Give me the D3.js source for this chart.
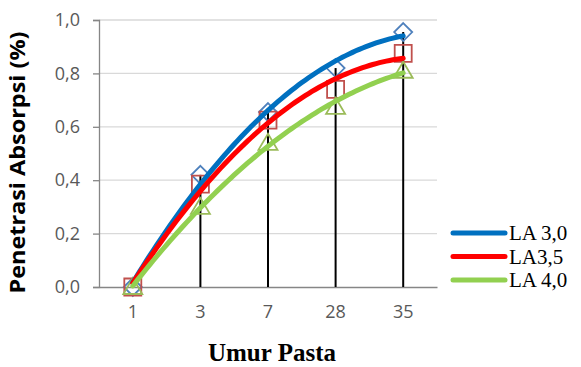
<!DOCTYPE html>
<html><head><meta charset="utf-8">
<script src="https://cdn.jsdelivr.net/npm/d3@7"></script>
<style>body{margin:0;background:#fff}svg{display:block}</style>
</head><body><svg id="c" width="581" height="367"></svg>
<script>
const categories = ["1","3","7","28","35"];
const seriesNames = ["LA 3,0","LA3,5","LA 4,0"];
const la30 = [0.00, 0.42, 0.655, 0.82, 0.955];
const la35 = [0.00, 0.385, 0.625, 0.74, 0.875];
const la40 = [0.00, 0.30, 0.54, 0.675, 0.81];
const yTicks = [0,0.2,0.4,0.6,0.8,1.0];

const series = [
  {name:seriesNames[0], values:la30, line:"#0070C0", marker:"#4F81BD", shape:"diamond"},
  {name:seriesNames[1], values:la35, line:"#FF0000", marker:"#C0504D", shape:"square"},
  {name:seriesNames[2], values:la40, line:"#92D050", marker:"#9BBB59", shape:"triangle"}
];

const svg = d3.select("#c");
const L=99, R=437, T=20, B=287;
const x = d3.scaleBand().domain(categories).range([L,R]);
const xc = c => x(c)+x.bandwidth()/2;
const y = d3.scaleLinear().domain([0,1]).range([B,T]);
const fmt = d => d.toFixed(1).replace(".",",");

svg.append("g").selectAll("line").data(yTicks.filter(d=>d>0)).join("line")
  .attr("x1",L).attr("x2",R).attr("y1",d=>y(d)).attr("y2",d=>y(d))
  .attr("stroke","#D9D9D9").attr("stroke-width",1.3);

const ya = svg.append("g").attr("transform",`translate(${L},0)`)
  .call(d3.axisLeft(y).tickValues(yTicks).tickFormat(fmt).tickSize(6).tickPadding(13));
ya.select(".domain").attr("stroke","#868686").attr("stroke-width",1.3);
ya.selectAll(".tick line").attr("stroke","#868686").attr("stroke-width",1.3);
ya.selectAll(".tick text").attr("fill","#595959").attr("font-family","'Open Sans',sans-serif").attr("font-size",18);

const xa = svg.append("g").attr("transform",`translate(0,${B})`)
  .call(d3.axisBottom(x).tickSize(0).tickPadding(18));
xa.select(".domain").attr("stroke","#868686").attr("stroke-width",1.5);
xa.selectAll(".tick text").attr("fill","#595959").attr("font-family","'Open Sans',sans-serif").attr("font-size",18);

const maxVals = categories.map((c,i)=>d3.max(series,s=>s.values[i]));
svg.append("g").selectAll("line").data(categories).join("line")
  .attr("x1",c=>xc(c)).attr("x2",c=>xc(c))
  .attr("y1",(c,i)=>y(maxVals[i])).attr("y2",B)
  .attr("stroke","#000").attr("stroke-width",2);

function markerPath(shape){
  if(shape==="diamond") return "M0,-9L9,0L0,9L-9,0Z";
  if(shape==="square") return "M-8.5,-8.5H8.5V8.5H-8.5Z";
  return "M0,-9L9.5,7H-9.5Z";
}
series.forEach(s=>{
  const g = svg.append("g");
  g.selectAll("path").data(s.values).join("path")
    .attr("d",markerPath(s.shape))
    .attr("transform",(v,i)=>`translate(${xc(categories[i])},${y(v)})`)
    .attr("fill","none").attr("stroke",s.marker).attr("stroke-width",1.8);
});

function quadFit(vals){
  const xs = vals.map((v,i)=>i+1);
  let S=[0,0,0,0,0], Ty=[0,0,0];
  xs.forEach((xv,i)=>{for(let k=0;k<5;k++)S[k]+=Math.pow(xv,k);for(let k=0;k<3;k++)Ty[k]+=vals[i]*Math.pow(xv,k);});
  const A=[[S[0],S[1],S[2],Ty[0]],[S[1],S[2],S[3],Ty[1]],[S[2],S[3],S[4],Ty[2]]];
  for(let i=0;i<3;i++){for(let j=i+1;j<3;j++){const f=A[j][i]/A[i][i];for(let k=i;k<4;k++)A[j][k]-=f*A[i][k];}}
  const c=[0,0,0];
  for(let i=2;i>=0;i--){let s=A[i][3];for(let k=i+1;k<3;k++)s-=A[i][k]*c[k];c[i]=s/A[i][i];}
  return t=>c[0]+c[1]*t+c[2]*t*t;
}
const idxToX = d3.scaleLinear().domain([1,categories.length]).range([xc(categories[0]),xc(categories[categories.length-1])]);
series.forEach(s=>{
  const f = quadFit(s.values);
  const pts = d3.range(1,categories.length+0.001,0.05).map(t=>[idxToX(t),y(f(t))]);
  svg.append("path").attr("d",d3.line()(pts)).attr("fill","none")
    .attr("stroke",s.line).attr("stroke-width",5).attr("stroke-linecap","round");
});

svg.append("text").attr("transform",`translate(25,${(T+B)/2+9}) rotate(-90)`)
  .attr("text-anchor","middle").attr("font-family","'Open Sans',sans-serif").attr("font-weight","bold")
  .attr("font-size",20.5).attr("textLength",262).attr("lengthAdjust","spacingAndGlyphs")
  .attr("fill","#000").text("Penetrasi Absorpsi (%)");
svg.append("text").attr("x",272).attr("y",361).attr("text-anchor","middle")
  .attr("font-family","'Liberation Serif',serif").attr("font-weight","bold")
  .attr("font-size",25).attr("fill","#000").text("Umur Pasta");

const lg = svg.append("g");
series.forEach((s,i)=>{
  const ly = 233 + i*23.5;
  lg.append("line").attr("x1",453).attr("x2",505).attr("y1",ly).attr("y2",ly)
    .attr("stroke",s.line).attr("stroke-width",5).attr("stroke-linecap","round");
  lg.append("text").attr("x",509).attr("y",ly+7).attr("font-family","'Liberation Serif',serif")
    .attr("font-size",21).attr("fill","#000").text(s.name);
});
</script></body></html>
